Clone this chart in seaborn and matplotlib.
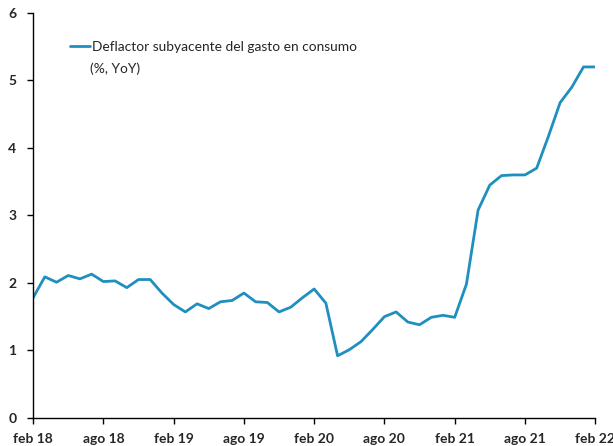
import pandas as pd
import seaborn as sns
import matplotlib.pyplot as plt

# monthly data, feb 2018 .. feb 2022
months = pd.date_range("2018-02-01", "2022-02-01", freq="MS")
values = [1.78, 2.09, 2.01, 2.11, 2.06, 2.13, 2.02, 2.03, 1.93, 2.05, 2.05, 1.85,
          1.68, 1.57, 1.69, 1.62, 1.72, 1.74, 1.85, 1.72, 1.71, 1.57, 1.64, 1.78,
          1.91, 1.70, 0.92, 1.01, 1.13, 1.31, 1.50, 1.57, 1.42, 1.38, 1.49, 1.52,
          1.49, 1.98, 3.08, 3.45, 3.59, 3.60, 3.60, 3.70, 4.17, 4.67, 4.90, 5.20,
          5.20]
tick_labels = ["feb 18", "ago 18", "feb 19", "ago 19", "feb 20",
               "ago 20", "feb 21", "ago 21", "feb 22"]
series_name = "Deflactor subyacente del gasto en consumo"
series_unit = "(%, YoY)"

df = pd.DataFrame({"idx": range(len(months)), "value": values})

sns.set_style("white")
plt.rcParams["font.family"] = ["Lato", "DejaVu Sans"]

fig = plt.figure(figsize=(6.13, 4.46), dpi=100)
ax = fig.add_axes([0.054, 0.063, 0.917, 0.908])
sns.lineplot(data=df, x="idx", y="value", ax=ax, color="#1f8fc0",
             linewidth=2, label=series_name)

ax.set_xlim(0, 48)
ax.set_ylim(0, 6)
ax.set_xticks(range(0, 49, 6))
ax.set_xticklabels(tick_labels, fontweight="bold", fontsize=10)
ax.set_yticks(range(0, 7))
ax.set_yticklabels([str(v) for v in range(0, 7)], fontweight="bold", fontsize=10)
ax.set_xlabel("")
ax.set_ylabel("")
for s in ["top", "right"]:
    ax.spines[s].set_visible(False)
for s in ["left", "bottom"]:
    ax.spines[s].set_color("black")
    ax.spines[s].set_linewidth(1)
ax.tick_params(axis="both", which="both", direction="out", length=4,
               width=1, color="black", left=True, bottom=True)
ax.tick_params(axis="x", pad=7)
ax.tick_params(axis="y", pad=8)

leg = ax.legend(loc="upper left", bbox_to_anchor=(0.055, 0.945), frameon=False,
                fontsize=9.9, handlelength=1.5, handletextpad=0.1,
                borderaxespad=0)
ax.text(0.1017, 0.863, series_unit, transform=ax.transAxes, fontsize=9.9,
        ha="left", va="center")

plt.savefig("out.png", dpi=100)
plt.close()
